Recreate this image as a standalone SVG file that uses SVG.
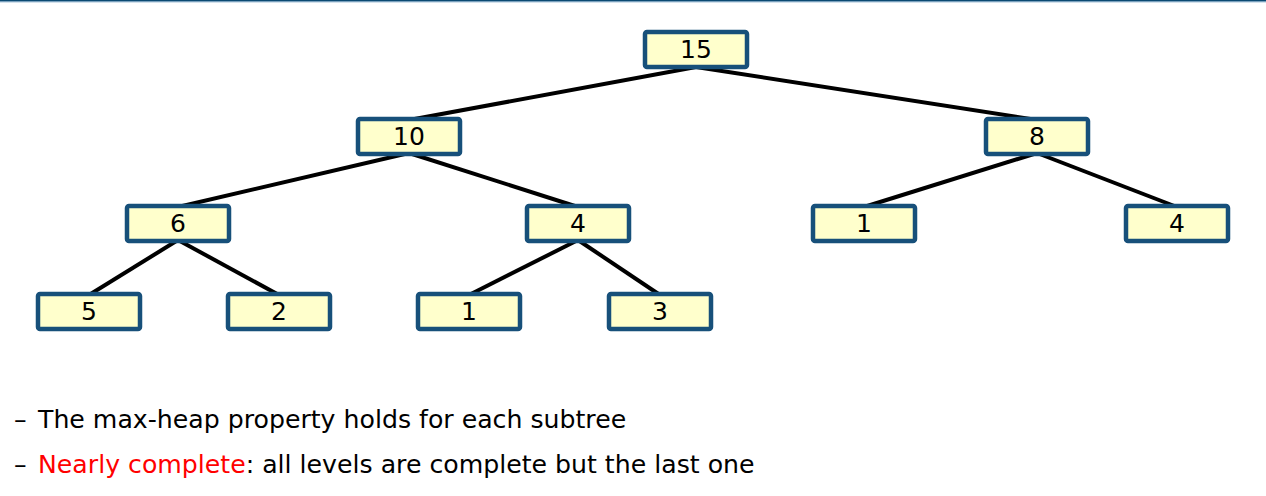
<svg xmlns="http://www.w3.org/2000/svg" width="1266" height="496" viewBox="0 0 1266 496">
<style>
.box{fill:#ffffcc;stroke:#17507a;stroke-width:4.5}
.lbl{font-family:"DejaVu Sans",sans-serif;font-size:25px;fill:#000;text-anchor:middle}
.edge{stroke:#000;stroke-width:4;fill:none}
.txt{font-family:"DejaVu Sans",sans-serif;font-size:25.2px;fill:#000}
</style>
<rect x="0" y="0" width="1266" height="496" fill="#fff"/>
<rect x="0" y="0" width="1266" height="1.5" fill="#0b4a73"/>
<rect x="0" y="1.5" width="1266" height="0.8" fill="#6f9cc0"/>
<g id="connectors">
<line class="edge" x1="696" y1="67" x2="409" y2="120"/>
<line class="edge" x1="696" y1="67" x2="1037" y2="120"/>
<line class="edge" x1="409" y1="153" x2="178" y2="207"/>
<line class="edge" x1="409" y1="153" x2="578" y2="207"/>
<line class="edge" x1="1037" y1="153" x2="864" y2="207"/>
<line class="edge" x1="1037" y1="153" x2="1177" y2="207"/>
<line class="edge" x1="178" y1="240" x2="89" y2="295"/>
<line class="edge" x1="178" y1="240" x2="279" y2="295"/>
<line class="edge" x1="578" y1="240" x2="469" y2="295"/>
<line class="edge" x1="578" y1="240" x2="660" y2="295"/>
</g>
<g id="n15"><rect class="box" x="645" y="32" width="102" height="35" rx="2"/><text class="lbl" x="696" y="58">15</text></g>
<g id="n10"><rect class="box" x="358" y="119" width="102" height="35" rx="2"/><text class="lbl" x="409" y="145">10</text></g>
<g id="n8"><rect class="box" x="986" y="119" width="102" height="35" rx="2"/><text class="lbl" x="1037" y="145">8</text></g>
<g id="n6"><rect class="box" x="127" y="206" width="102" height="35" rx="2"/><text class="lbl" x="178" y="232">6</text></g>
<g id="n4a"><rect class="box" x="527" y="206" width="102" height="35" rx="2"/><text class="lbl" x="578" y="232">4</text></g>
<g id="n1a"><rect class="box" x="813" y="206" width="102" height="35" rx="2"/><text class="lbl" x="864" y="232">1</text></g>
<g id="n4b"><rect class="box" x="1126" y="206" width="102" height="35" rx="2"/><text class="lbl" x="1177" y="232">4</text></g>
<g id="n5"><rect class="box" x="38" y="294" width="102" height="35" rx="2"/><text class="lbl" x="89" y="320">5</text></g>
<g id="n2"><rect class="box" x="228" y="294" width="102" height="35" rx="2"/><text class="lbl" x="279" y="320">2</text></g>
<g id="n1b"><rect class="box" x="418" y="294" width="102" height="35" rx="2"/><text class="lbl" x="469" y="320">1</text></g>
<g id="n3"><rect class="box" x="609" y="294" width="102" height="35" rx="2"/><text class="lbl" x="660" y="320">3</text></g>
<g id="notes">
<text class="txt" x="14" y="428">–</text>
<text class="txt" x="38" y="428">The max-heap property holds for each subtree</text>
<text class="txt" x="14" y="473">–</text>
<text class="txt" x="38" y="473"><tspan fill="#ff0000">Nearly complete</tspan>: all levels are complete but the last one</text>
</g>
</svg>
